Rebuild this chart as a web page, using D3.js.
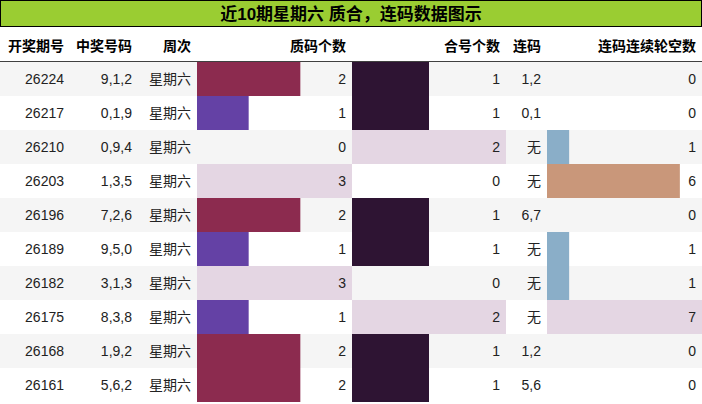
<!DOCTYPE html><html><head><meta charset="utf-8">
<script src="https://cdn.jsdelivr.net/npm/d3@7"></script>
<style>body{margin:0;background:#fff}svg text{font-family:"Liberation Sans","Noto Sans CJK SC",sans-serif}</style></head><body>
<svg id="c" width="702" height="404"></svg>
<script>
const issues=["26224","26217","26210","26203","26196","26189","26182","26175","26168","26161"];
const numbers=["9,1,2","0,1,9","0,9,4","1,3,5","7,2,6","9,5,0","3,1,3","8,3,8","1,9,2","5,6,2"];
const weekday=["星期六","星期六","星期六","星期六","星期六","星期六","星期六","星期六","星期六","星期六"];
const primeCount=[2,1,0,3,2,1,3,1,2,2];
const compCount=[1,1,2,0,1,1,0,2,1,1];
const consec=["1,2","0,1","无","无","6,7","无","无","无","1,2","5,6"];
const missCount=[0,0,1,6,0,1,1,7,0,0];
const headers=["开奖期号","中奖号码","周次","质码个数","合号个数","连码","连码连续轮空数"];
const title="近10期星期六 质合，连码数据图示";
const svg=d3.select("#c");
const colX=[0,70,138,197,352,506,547,702];
svg.append("rect").attr("x",0.5).attr("y",0.5).attr("width",701).attr("height",26).attr("fill","#9acd32").attr("stroke","#000");
svg.append("text").attr("x",351).attr("y",20).attr("text-anchor","middle").attr("font-size",17).attr("font-weight","bold").text(title);
const y=d3.scaleBand().domain(d3.range(10)).range([62,402]);
headers.forEach((h,i)=>svg.append("text").attr("x",colX[i+1]-6).attr("y",51).attr("text-anchor","end").attr("font-size",14).attr("font-weight","bold").text(h));
svg.append("line").attr("x1",0).attr("x2",702).attr("y1",62).attr("y2",62).attr("stroke","#000").attr("stroke-width",1.5);
d3.range(10).forEach(i=>svg.append("rect").attr("x",0).attr("y",y(i)).attr("width",702).attr("height",y.bandwidth()).attr("fill",i%2?"#fff":"#f5f5f5"));
const xp=d3.scaleLinear().domain([0,3]).range([197,352]);
const xc=d3.scaleLinear().domain([0,2]).range([352,506]);
const xm=d3.scaleLinear().domain([0,7]).range([547,702]);
const pc={1:"#6441a5",2:"#8c2b4f",3:"#e4d6e3"};
const cc={1:"#2e1433",2:"#e4d6e3"};
const mc={1:"#8aaec8",6:"#c9977a",7:"#e4d6e3"};
function bars(vals,x,cm){vals.forEach((v,i)=>{if(v>0)svg.append("rect").attr("x",x(0)).attr("y",y(i)).attr("width",x(v)-x(0)).attr("height",y.bandwidth()).attr("fill",cm[v]);});}
bars(primeCount,xp,pc);bars(compCount,xc,cc);bars(missCount,xm,mc);
const cols=[issues,numbers,weekday,primeCount,compCount,consec,missCount];
cols.forEach((c,j)=>c.forEach((v,i)=>svg.append("text").attr("x",colX[j+1]-6).attr("y",y(i)+y.bandwidth()/2+5).attr("text-anchor","end").attr("font-size",14).attr("fill","#222").text(v)));
</script></body></html>
